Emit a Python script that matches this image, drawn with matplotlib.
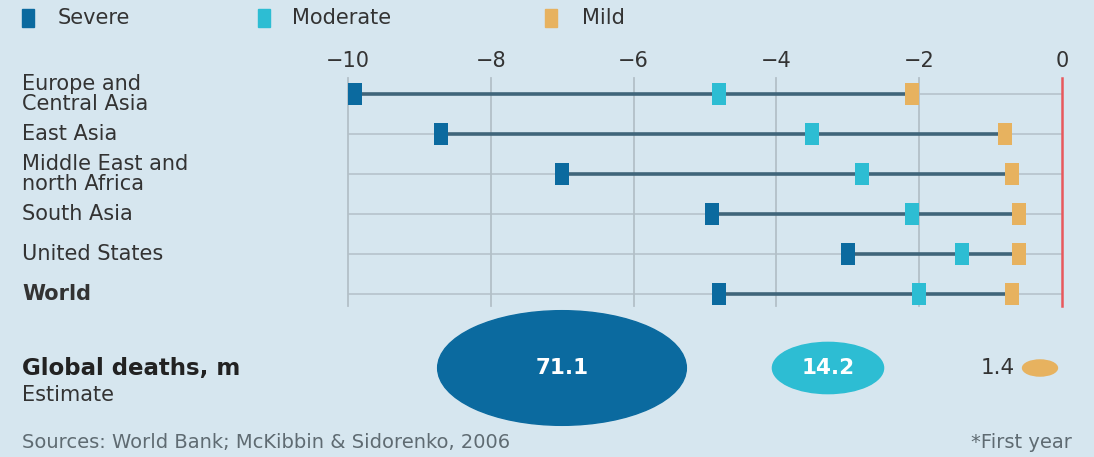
import numpy as np
import matplotlib.pyplot as plt
import matplotlib.transforms as mtransforms
from matplotlib.patches import Ellipse, Rectangle

## Data
## ====
regions = ['Europe and\nCentral Asia', 'East Asia', 'Middle East and\nnorth Africa',
           'South Asia', 'United States', 'World']
severe = [-9.9, -8.7, -7.0, -4.9, -3.0, -4.8]
moderate = [-4.8, -3.5, -2.8, -2.1, -1.4, -2.0]
mild = [-2.1, -0.8, -0.7, -0.6, -0.6, -0.7]

scenarios = ['Severe', 'Moderate', 'Mild']
deaths = [71.1, 14.2, 1.4]
xticks = [-10, -8, -6, -4, -2, 0]

## Style
## =====
W, H = 1094, 457
bg = '#d6e6ef'
colors = ['#0b6a9f', '#2dbdd3', '#e7b25f']
grid_c = '#b3c0c8'
line_c = '#40657a'
text_c = '#333333'
plt.rcParams['font.family'] = ['DejaVu Sans']

fig = plt.figure(figsize=(W / 100, H / 100), dpi=100, facecolor=bg)

## Main dot plot
## =============
ax = fig.add_axes([348 / W, 1 - 306 / H, (1062 - 348) / W, (306 - 78) / H])
ax.set_facecolor(bg)
ax.set_xlim(-10, 0)
ax.set_ylim(5.3, -0.4)
rows = np.arange(len(regions))

for t in xticks[:-1]:
    ax.axvline(t, color=grid_c, lw=1.3, zorder=1, clip_on=False)
ax.hlines(rows, -10, 0, color=grid_c, lw=1.1, zorder=1)
ax.axvline(0, color='#e8585c', lw=1.8, zorder=2.5, clip_on=False)

ax.hlines(rows, severe, mild, color=line_c, lw=2.6, zorder=2)
bw = 0.2
for vals, c in zip([severe, moderate, mild], colors):
    ax.barh(rows, bw, left=np.array(vals) - bw / 2, height=0.55, color=c, zorder=3)

ax.xaxis.tick_top()
ax.set_xticks(xticks)
ax.set_xticklabels([f'{t}'.replace('-', '\u2212') for t in xticks])
ax.tick_params(axis='x', length=0, pad=5, labelsize=15, colors=text_c)
ax.set_yticks([])
for s in ax.spines.values():
    s.set_visible(False)

trans = mtransforms.blended_transform_factory(fig.transFigure, ax.transData)
for i, name in enumerate(regions):
    ax.text(22 / W, i, name, transform=trans, ha='left', va='center',
            fontsize=15, color=text_c, linespacing=1.0,
            fontweight='bold' if name == 'World' else 'normal')

## Overlay: legend, bubbles, notes
## ===============================
ov = fig.add_axes([0, 0, 1, 1])
ov.set_xlim(0, W)
ov.set_ylim(H, 0)
ov.axis('off')

leg_sq = [22, 258, 545]
leg_tx = [58, 292, 582]
for name, c, sx, tx in zip(scenarios, colors, leg_sq, leg_tx):
    ov.add_patch(Rectangle((sx, 9), 12, 18, color=c))
    ov.text(tx, 18, name, ha='left', va='center', fontsize=15, color=text_c)

ov.text(22, 369, 'Global deaths, m', ha='left', va='center', fontsize=16.5,
        fontweight='bold', color='#222222')
ov.text(22, 395, 'Estimate', ha='left', va='center', fontsize=15, color=text_c)

cx = [562, 828, 1040]
kw, kh = 29.5, 13.6
for v, c, x in zip(deaths, colors, cx):
    ov.add_patch(Ellipse((x, 368), kw * np.sqrt(v), kh * np.sqrt(v), color=c))
ov.text(cx[0], 368, f'{deaths[0]}', ha='center', va='center', fontsize=15.5,
        color='white', fontweight='bold')
ov.text(cx[1], 368, f'{deaths[1]}', ha='center', va='center', fontsize=15.5,
        color='white', fontweight='bold')
ov.text(cx[2] - 25, 368, f'{deaths[2]}', ha='right', va='center', fontsize=15.5,
        color=text_c)

ov.text(22, 442, 'Sources: World Bank; McKibbin & Sidorenko, 2006', ha='left',
        va='center', fontsize=14, color='#5f6b72')
ov.text(1072, 442, '*First year', ha='right', va='center', fontsize=14,
        color='#5f6b72')

plt.savefig('out.png', dpi=100, facecolor=bg)
